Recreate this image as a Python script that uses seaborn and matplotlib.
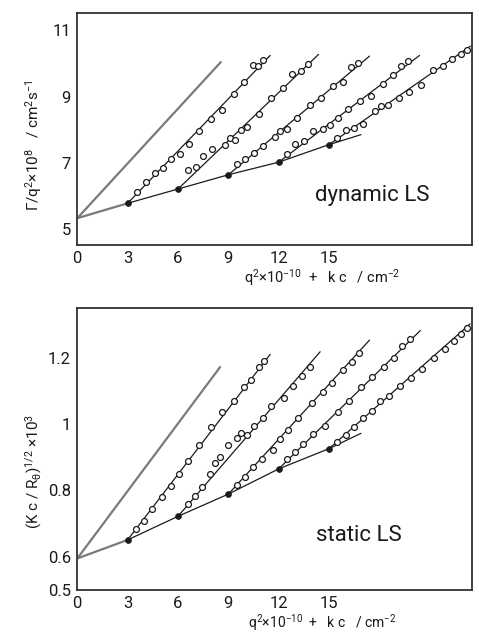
import matplotlib
matplotlib.use("Agg")
import matplotlib.pyplot as plt
import numpy as np
import pandas as pd
import seaborn as sns
from matplotlib.ticker import FixedLocator, FixedFormatter

sns.set_theme(style="white")
plt.rcParams["font.family"] = ["Roboto", "DejaVu Sans"]
plt.rcParams["mathtext.fontset"] = "custom"
plt.rcParams["mathtext.rm"] = "Roboto"
plt.rcParams["mathtext.it"] = "Roboto"
plt.rcParams["mathtext.fallback"] = "stixsans"

# ---------------- dynamic light scattering ----------------
dyn_base_x = [0, 3, 6, 9, 12, 15]
dyn_base_y = [5.33, 5.78, 6.21, 6.64, 7.02, 7.55]
dyn_base_end = [16.9, 7.85]
dyn_zero_end = [8.55, 10.04]
dyn_fit_end_x = [11.49, 14.37, 17.41, 20.39, 23.42]
dyn_fit_end_y = [10.24, 10.27, 10.22, 10.24, 10.52]

dyn_s1_x = [3.54, 4.08, 4.61, 5.13, 5.61, 6.14, 6.64, 7.26, 7.99, 8.63, 9.33, 9.92, 10.44, 10.76, 11.09]
dyn_s1_y = [6.12, 6.42, 6.69, 6.85, 7.13, 7.26, 7.58, 7.96, 8.32, 8.58, 9.07, 9.43, 9.94, 9.91, 10.09]
dyn_s2_x = [6.58, 7.06, 7.50, 8.05, 8.77, 9.11, 9.42, 9.78, 10.14, 10.84, 11.55, 12.25, 12.82, 13.34, 13.77]
dyn_s2_y = [6.77, 6.86, 7.20, 7.43, 7.54, 7.74, 7.69, 8.00, 8.08, 8.48, 8.95, 9.26, 9.68, 9.78, 9.97]
dyn_s3_x = [9.52, 10.00, 10.50, 11.07, 11.75, 12.05, 12.52, 13.10, 13.86, 14.53, 15.21, 15.84, 16.32, 16.72]
dyn_s3_y = [6.96, 7.11, 7.30, 7.52, 7.78, 7.97, 8.02, 8.35, 8.75, 8.95, 9.31, 9.44, 9.90, 10.02]
dyn_s4_x = [12.50, 13.00, 13.48, 14.07, 14.65, 15.07, 15.53, 16.12, 16.82, 17.51, 18.19, 18.78, 19.26, 19.72]
dyn_s4_y = [7.26, 7.57, 7.65, 7.95, 8.03, 8.15, 8.35, 8.61, 8.86, 9.02, 9.37, 9.64, 9.92, 10.06]
dyn_s5_x = [15.47, 16.00, 16.46, 17.02, 17.75, 18.07, 18.54, 19.14, 19.74, 20.48, 21.17, 21.81, 22.33, 22.84, 23.22]
dyn_s5_y = [7.75, 7.98, 8.05, 8.17, 8.55, 8.72, 8.73, 8.95, 9.13, 9.35, 9.79, 9.92, 10.12, 10.29, 10.39]

# ---------------- static light scattering ----------------
sta_base_x = [0, 3, 6, 9, 12, 15]
sta_base_y = [0.595, 0.651, 0.722, 0.789, 0.865, 0.926]
sta_base_end = [16.9, 0.972]
sta_zero_end = [8.51, 1.172]
sta_fit_end_x = [11.49, 14.47, 17.41, 20.44, 23.40]
sta_fit_end_y = [1.210, 1.218, 1.253, 1.282, 1.302]

sta_s1_x = [3.52, 3.96, 4.47, 5.03, 5.57, 6.06, 6.58, 7.24, 7.99, 8.65, 9.33, 9.96, 10.36, 10.83, 11.15]
sta_s1_y = [0.684, 0.708, 0.743, 0.781, 0.813, 0.851, 0.890, 0.936, 0.991, 1.037, 1.069, 1.113, 1.133, 1.171, 1.190]
sta_s2_x = [6.58, 7.00, 7.45, 7.91, 8.23, 8.53, 9.00, 9.50, 9.78, 10.14, 10.50, 11.07, 11.57, 12.31, 12.86, 13.38, 13.86]
sta_s2_y = [0.759, 0.782, 0.809, 0.850, 0.882, 0.900, 0.936, 0.959, 0.972, 0.967, 0.994, 1.017, 1.053, 1.079, 1.116, 1.144, 1.173]
sta_s3_x = [9.52, 10.00, 10.48, 11.01, 11.65, 12.07, 12.56, 13.14, 13.98, 14.61, 15.15, 15.86, 16.38, 16.80]
sta_s3_y = [0.816, 0.842, 0.872, 0.896, 0.921, 0.954, 0.981, 1.019, 1.064, 1.097, 1.123, 1.163, 1.188, 1.213]
sta_s4_x = [12.52, 13.00, 13.46, 14.07, 14.75, 15.53, 16.18, 16.90, 17.53, 18.25, 18.84, 19.34, 19.84]
sta_s4_y = [0.896, 0.917, 0.939, 0.969, 0.994, 1.036, 1.069, 1.111, 1.142, 1.171, 1.200, 1.234, 1.255]
sta_s5_x = [15.50, 15.98, 16.46, 17.05, 17.55, 18.05, 18.55, 19.24, 19.88, 20.54, 21.27, 21.93, 22.42, 22.86, 23.22]
sta_s5_y = [0.946, 0.968, 0.991, 1.019, 1.039, 1.070, 1.085, 1.114, 1.140, 1.165, 1.200, 1.225, 1.249, 1.271, 1.291]

x_ticks = [0, 3, 6, 9, 12, 15]
x_label = r"q$^2$$\times$10$^{-10}$  +   k c   / cm$^{-2}$"
dyn_ylabel = r"$\Gamma$/q$^2$$\times$10$^8$   / cm$^2$s$^{-1}$"
sta_ylabel = r"(K c / R$_\theta$)$^{1/2}$ $\times$10$^3$"

INK = "#1a1a1a"
GREY = "#7a7a7a"


def draw_panel(ax, base_x, base_y, base_end, zero_end, fit_x, fit_y, series):
    # extrapolated lines: c -> 0 (grey) and q -> 0 (black, through filled dots)
    grey = pd.DataFrame({
        "x": [base_x[0], zero_end[0], base_x[0], base_x[1]],
        "y": [base_y[0], zero_end[1], base_y[0], base_y[1]],
        "seg": [0, 0, 1, 1],
    })
    sns.lineplot(data=grey, x="x", y="y", units="seg", estimator=None, sort=False,
                 color=GREY, lw=1.6, ax=ax)

    rows = []
    bx = base_x[1:] + [base_end[0]]
    by = base_y[1:] + [base_end[1]]
    for xv, yv in zip(bx, by):
        rows.append((xv, yv, "base"))
    for i, (ex, ey) in enumerate(zip(fit_x, fit_y)):
        rows.append((base_x[i + 1], base_y[i + 1], f"fit{i}"))
        rows.append((ex, ey, f"fit{i}"))
    lines = pd.DataFrame(rows, columns=["x", "y", "seg"])
    sns.lineplot(data=lines, x="x", y="y", units="seg", estimator=None, sort=False,
                 color=INK, lw=0.9, ax=ax)

    pts = pd.concat([pd.DataFrame({"x": sx, "y": sy, "c": k})
                     for k, (sx, sy) in enumerate(series)], ignore_index=True)
    sns.scatterplot(data=pts, x="x", y="y", marker="o", s=18, facecolor="white",
                    edgecolor=INK, linewidth=0.9, ax=ax, zorder=4)

    filled = pd.DataFrame({"x": base_x[1:], "y": base_y[1:]})
    sns.scatterplot(data=filled, x="x", y="y", marker="o", s=18, color=INK,
                    edgecolor=INK, linewidth=0.5, ax=ax, zorder=5)

    ax.set_xlim(0, 23.5)
    ax.set_xticks(x_ticks)
    ax.set_xticklabels([str(t) for t in x_ticks])
    for sp in ax.spines.values():
        sp.set_visible(True)
        sp.set_color("#333333")
        sp.set_linewidth(1.3)
    ax.tick_params(axis="both", which="both", direction="inout", length=5,
                   width=1.0, color="#333333", labelsize=12, labelcolor=INK, pad=2)
    ax.tick_params(axis="x", pad=2)


fig = plt.figure(figsize=(4.79, 6.32), dpi=100)
fig.patch.set_facecolor("white")
ax1 = fig.add_axes([0.1614, 0.6123, 0.8234, 0.3671])
ax2 = fig.add_axes([0.1614, 0.0665, 0.8234, 0.4457])

draw_panel(ax1, dyn_base_x, dyn_base_y, dyn_base_end, dyn_zero_end,
           dyn_fit_end_x, dyn_fit_end_y,
           [(dyn_s1_x, dyn_s1_y), (dyn_s2_x, dyn_s2_y), (dyn_s3_x, dyn_s3_y),
            (dyn_s4_x, dyn_s4_y), (dyn_s5_x, dyn_s5_y)])
ax1.set_ylim(4.52, 11.52)
ax1.yaxis.set_major_locator(FixedLocator([5, 7, 9, 11]))
ax1.yaxis.set_major_formatter(FixedFormatter(["5", "7", "9", "11"]))
ax1.yaxis.set_minor_locator(FixedLocator([6, 8, 10]))
ax1.text(17.6, 6.0, "dynamic LS", ha="center", va="center", fontsize=16, color=INK)
ax1.set_xlabel(x_label, fontsize=10.5, color=INK)
ax1.xaxis.set_label_coords(0.62, -0.095)
ax1.set_ylabel(dyn_ylabel, fontsize=11, color=INK)
ax1.yaxis.set_label_coords(-0.085, 0.43)

draw_panel(ax2, sta_base_x, sta_base_y, sta_base_end, sta_zero_end,
           sta_fit_end_x, sta_fit_end_y,
           [(sta_s1_x, sta_s1_y), (sta_s2_x, sta_s2_y), (sta_s3_x, sta_s3_y),
            (sta_s4_x, sta_s4_y), (sta_s5_x, sta_s5_y)])
ax2.set_ylim(0.5, 1.349)
ax2.yaxis.set_major_locator(FixedLocator([0.5, 0.6, 0.8, 1.0, 1.2]))
ax2.yaxis.set_major_formatter(FixedFormatter(["0.5", "0.6", "0.8", "1", "1.2"]))
ax2.yaxis.set_minor_locator(FixedLocator([0.7, 0.9, 1.1]))
ax2.text(16.8, 0.665, "static LS", ha="center", va="center", fontsize=16, color=INK)
ax2.set_xlabel(x_label, fontsize=10, color=INK)
ax2.xaxis.set_label_coords(0.62, -0.079)
ax2.set_ylabel(sta_ylabel, fontsize=11, color=INK)
ax2.yaxis.set_label_coords(-0.085, 0.42)

fig.savefig("out.png", dpi=100, facecolor="white")
